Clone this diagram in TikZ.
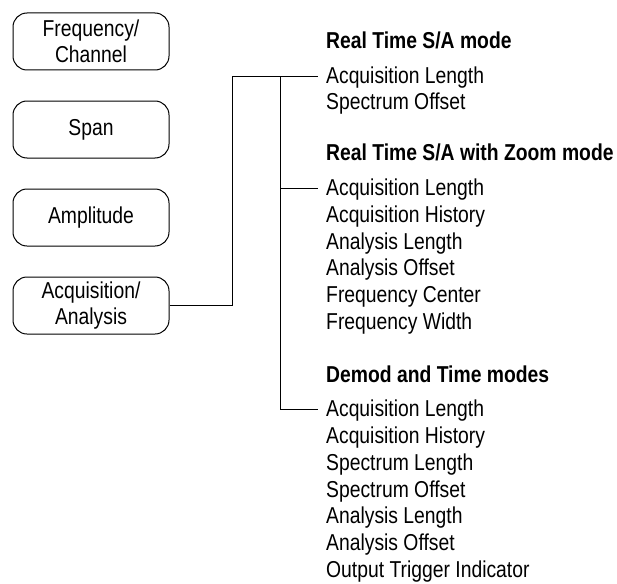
\documentclass[tikz,border=0pt]{standalone}
\usepackage{fontspec}
\setmainfont{Liberation Sans}[FakeStretch=0.84]
\usetikzlibrary{positioning}

\begin{document}
\begin{tikzpicture}[
                x=1pt, y=-1pt,
                font=\fontsize{23}{26}\selectfont,
                node distance=30pt,
                key/.style={draw, line width=1pt, rounded corners=14pt, minimum width=156pt,
                    minimum height=57pt, inner sep=0pt, align=center},
                head/.style={anchor=base west, inner sep=0pt, font=\fontsize{23}{26}\selectfont\bfseries},
                item/.style={anchor=base west, inner xsep=8pt, inner ysep=0pt,
                    text height=16pt, text depth=2pt},
                wire/.style={line width=1pt}
            ]
            \useasboundingbox (0,0) rectangle (617,583);

            % front panel keys
            \node[key] (freq) at (91,41.5) {Frequency/\\Channel};
            \node[key, below=of freq] (span) {Span};
            \node[key, below=of span] (ampl) {Amplitude};
            \node[key, below=of ampl] (acq) {Acquisition/\\Analysis};

            % Real Time S/A mode
            \node[head] (rthead) at (326,49) {Real Time S/A mode};
            \node[item] (rt1) at (318,84) {Acquisition Length};
            \node[item] (rt2) at (318,110) {Spectrum Offset};

            % Real Time S/A with Zoom mode
            \node[head] (zmhead) at (326,160) {Real Time S/A with Zoom mode};
            \node[item] (zm1) at (318,195) {Acquisition Length};
            \node[item] (zm2) at (318,222) {Acquisition History};
            \node[item] (zm3) at (318,249) {Analysis Length};
            \node[item] (zm4) at (318,275) {Analysis Offset};
            \node[item] (zm5) at (318,302) {Frequency Center};
            \node[item] (zm6) at (318,329) {Frequency Width};

            % Demod and Time modes
            \node[head] (dmhead) at (326,382) {Demod and Time modes};
            \node[item] (dm1) at (318,416) {Acquisition Length};
            \node[item] (dm2) at (318,443) {Acquisition History};
            \node[item] (dm3) at (318,470) {Spectrum Length};
            \node[item] (dm4) at (318,497) {Spectrum Offset};
            \node[item] (dm5) at (318,523) {Analysis Length};
            \node[item] (dm6) at (318,550) {Analysis Offset};
            \node[item] (dm7) at (318,577) {Output Trigger Indicator};

            % connectors
            \coordinate (bend) at (232,77);
            \coordinate (trunk) at (280,77);
            \draw[wire] (acq.east) -| (bend) -- (rt1.west);
            \draw[wire] (trunk) |- (dm1.west);
            \draw[wire] (trunk |- zm1.west) -- (zm1.west);

        \end{tikzpicture}
\end{document}
